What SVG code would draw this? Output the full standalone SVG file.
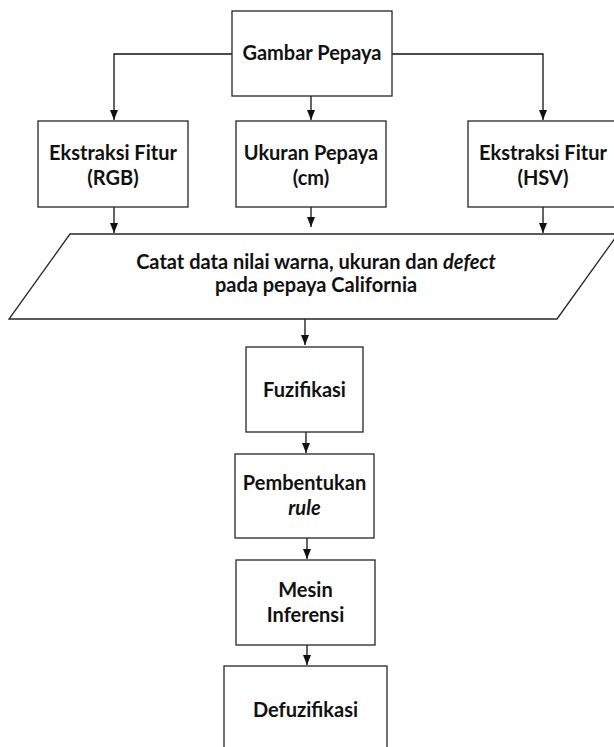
<svg xmlns="http://www.w3.org/2000/svg" width="614" height="747" viewBox="0 0 614 747">
<defs>
<style>
.box{fill:#fff;stroke:#262626;stroke-width:1.3}
.t{font-family:Lato,"Open Sans","Liberation Sans",sans-serif;font-weight:bold;font-size:20px;fill:#111;text-anchor:middle}
.c{fill:none;stroke:#111;stroke-width:1.3}
</style>
<marker id="ah" viewBox="0 0 10 8" refX="10" refY="4" markerWidth="10" markerHeight="8" markerUnits="userSpaceOnUse" orient="auto">
<path d="M0,0 L10,4 L0,8 z" fill="#111"/>
</marker>
</defs>
<rect width="614" height="747" fill="#fff"/>
<g id="connectors">
<path class="c" d="M232,54 H114 V120" marker-end="url(#ah)"/>
<path class="c" d="M311,96 V120" marker-end="url(#ah)"/>
<path class="c" d="M392,54 H543 V120" marker-end="url(#ah)"/>
<path class="c" d="M114,207 V233" marker-end="url(#ah)"/>
<path class="c" d="M311,207 V227" marker-end="url(#ah)"/>
<path class="c" d="M543,207 V233" marker-end="url(#ah)"/>
<path class="c" d="M305,319 V345" marker-end="url(#ah)"/>
<path class="c" d="M306,432 V453" marker-end="url(#ah)"/>
<path class="c" d="M307,538 V559" marker-end="url(#ah)"/>
<path class="c" d="M307,645 V665" marker-end="url(#ah)"/>
</g>
<g id="gambar">
<rect class="box" x="232" y="11" width="160" height="85"/>
<text class="t" x="312" y="60">Gambar Pepaya</text>
</g>
<g id="rgb">
<rect class="box" x="38" y="121" width="150" height="86"/>
<text class="t" x="113" y="160">Ekstraksi Fitur</text>
<text class="t" x="113" y="185">(RGB)</text>
</g>
<g id="ukuran">
<rect class="box" x="236" y="121" width="150" height="86"/>
<text class="t" x="311" y="160">Ukuran Pepaya</text>
<text class="t" x="311" y="185">(cm)</text>
</g>
<g id="hsv">
<rect class="box" x="468" y="121" width="152" height="86"/>
<text class="t" x="543" y="160">Ekstraksi Fitur</text>
<text class="t" x="543" y="185">(HSV)</text>
</g>
<g id="catat">
<polygon class="box" points="70,234 618,234 557,319 9,319"/>
<text class="t" x="316" y="269" font-size="20.7">Catat data nilai warna, ukuran dan <tspan font-style="italic">defect</tspan></text>
<text class="t" x="316" y="292" font-size="20.7">pada pepaya California</text>
</g>
<g id="fuzifikasi">
<rect class="box" x="246" y="347" width="117" height="85"/>
<text class="t" x="304.5" y="397">Fuzifikasi</text>
</g>
<g id="pembentukan">
<rect class="box" x="235" y="454" width="139" height="84"/>
<text class="t" x="304.5" y="490">Pembentukan</text>
<text class="t" x="304.5" y="515" font-style="italic">rule</text>
</g>
<g id="mesin">
<rect class="box" x="236" y="560" width="139" height="85"/>
<text class="t" x="305.5" y="597">Mesin</text>
<text class="t" x="305.5" y="622">Inferensi</text>
</g>
<g id="defuzifikasi">
<rect class="box" x="224" y="666" width="163" height="90"/>
<text class="t" x="305.5" y="717">Defuzifikasi</text>
</g>
</svg>
